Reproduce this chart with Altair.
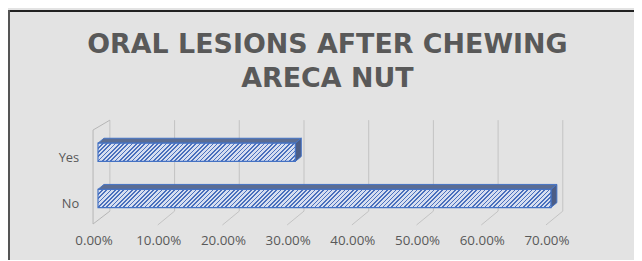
import altair as alt
import pandas as pd

# ---- data ----
categories = ["Yes", "No"]
values = [0.305, 0.70]
ticks = [0.0, 0.1, 0.2, 0.3, 0.4, 0.5, 0.6, 0.7]
title_lines = ["ORAL LESIONS AFTER CHEWING", "ARECA NUT"]

# ---- layout / style constants ----
W_PLOT, H_PLOT = 458, 126
XMAX = 0.7
PX = XMAX / W_PLOT          # data units per pixel on x
DEPTH_DX, DEPTH_DY = 17, -14  # wall depth
BAR_DX = 5                   # bar front plane offset from front axis plane
BAR_DEPTH_X, BAR_DEPTH_Y = 6, -5
BAR_TOP0, STEP, BAR_H = 43.3, 46.7, 18.4
BG = "#e3e3e3"
GRID = "#c2c2c2"
WALL = "#b5b5b5"
TEXT = "#595959"
BLUE = "#4472c4"
STRIPE = "#4a70bd"
PALE = "#d6def0"
TOP = "#5b6d93"
SIDE = "#4c5d86"

x_scale = alt.Scale(domain=[0, XMAX], nice=False, zero=False)
y_scale = alt.Scale(domain=[0, H_PLOT], reverse=True, nice=False, zero=False)

ticks_df = pd.DataFrame({"t": ticks})
bars = pd.DataFrame({"cat": categories, "v": values})
bars["i"] = range(len(bars))
bars["yt"] = BAR_TOP0 + bars["i"] * STEP
bars["yb"] = bars["yt"] + BAR_H
bars["x0"] = 0.0
recs = bars.to_dict("records")
title_df = pd.DataFrame({"line": title_lines, "k": range(len(title_lines))})

X = lambda f: alt.X(f, scale=x_scale, axis=None, title=None)

# back gridlines
grid = alt.Chart(ticks_df).mark_rule(xOffset=DEPTH_DX, color=GRID, strokeWidth=1).encode(
    x=X("t:Q"), y=alt.value(20), y2=alt.value(H_PLOT + DEPTH_DY),
)
# tick labels on the front floor edge
tick_labels = alt.Chart(ticks_df).transform_calculate(
    lab="format(datum.t, '.2%')").mark_text(
    font="Open Sans", fontSize=13.5, color=TEXT, baseline="middle", align="center", dx=1
).encode(x=X("t:Q"), y=alt.value(H_PLOT + 16), text="lab:N")

floor = alt.Chart(ticks_df).transform_filter("datum.t > 0").mark_rule(
    x2Offset=DEPTH_DX, color=GRID, strokeWidth=1).encode(
    x=X("t:Q"), x2="t:Q",
    y=alt.value(H_PLOT), y2=alt.value(H_PLOT + DEPTH_DY),
)

wall_front = alt.Chart(ticks_df).transform_filter("datum.t == 0").mark_rule(
    color=WALL, strokeWidth=1).encode(
    x=X("t:Q"), y=alt.value(30), y2=alt.value(125))
wall_topd = alt.Chart(ticks_df).transform_filter("datum.t == 0").mark_rule(
    x2Offset=DEPTH_DX, color=WALL, strokeWidth=1).encode(
    x=X("t:Q"), x2="t:Q", y=alt.value(30), y2=alt.value(20))
wall_botd = alt.Chart(ticks_df).transform_filter("datum.t == 0").mark_rule(
    x2Offset=DEPTH_DX, color=WALL, strokeWidth=1).encode(
    x=X("t:Q"), x2="t:Q", y=alt.value(125), y2=alt.value(112))

# top and side faces (parallelograms)
top_rows = []
side_rows = []
for r in recs:
    top_rows.append({"cat": r["cat"], "y": r["yt"],
                     "xa": r["x0"] + BAR_DX * PX, "xb": r["v"] + BAR_DX * PX})
    top_rows.append({"cat": r["cat"], "y": r["yt"] + BAR_DEPTH_Y,
                     "xa": r["x0"] + (BAR_DX + BAR_DEPTH_X) * PX,
                     "xb": r["v"] + (BAR_DX + BAR_DEPTH_X) * PX})
    side_rows.append({"cat": r["cat"], "x": r["v"] + BAR_DX * PX, "ya": r["yt"], "yb": r["yb"]})
    side_rows.append({"cat": r["cat"], "x": r["v"] + (BAR_DX + BAR_DEPTH_X) * PX,
                      "ya": r["yt"] + BAR_DEPTH_Y, "yb": r["yb"] + BAR_DEPTH_Y})
top_df = pd.DataFrame(top_rows)
side_df = pd.DataFrame(side_rows)

top_face = alt.Chart(top_df).mark_area(orient="horizontal", fill=TOP, stroke=BLUE,
                                       strokeWidth=1, interpolate="linear").encode(
    y=alt.Y("y:Q", scale=y_scale, axis=None),
    x=alt.X("xa:Q", scale=x_scale, axis=None, stack=None), x2="xb:Q",
    detail="cat:N",
)
side_face = alt.Chart(side_df).mark_area(orient="vertical", fill=SIDE, stroke=BLUE,
                                         strokeWidth=1, interpolate="linear").encode(
    x=X("x:Q"),
    y=alt.Y("ya:Q", scale=y_scale, axis=None, stack=None), y2="yb:Q",
    detail="cat:N",
)


def hatch(width_px, height_px, period=4.3, frac=0.38):
    t = height_px / width_px
    k = (width_px + height_px) / (width_px * (1 + t * t))
    total = width_px + height_px
    stops = []
    n = int(total / period) + 1
    for j in range(n):
        a = j * period / total
        if a >= 1:
            break
        b = min((j * period + period * frac) / total, 1.0)
        c = min((j + 1) * period / total, 1.0)
        stops += [{"offset": a, "color": STRIPE}, {"offset": b, "color": STRIPE},
                  {"offset": b, "color": PALE}, {"offset": c, "color": PALE}]
    return {"gradient": "linear", "x1": 0, "y1": 0, "x2": k, "y2": k * t, "stops": stops}


fronts = []
for r in recs:
    wpx = (r["v"] - r["x0"]) / PX
    fronts.append(
        alt.Chart(bars).transform_filter(alt.datum.cat == r["cat"]).mark_rect(
            xOffset=BAR_DX, x2Offset=BAR_DX, fill=hatch(wpx, BAR_H), stroke=BLUE, strokeWidth=1.2
        ).encode(
            x=X("x0:Q"), x2="v:Q",
            y=alt.Y("yt:Q", scale=y_scale, axis=None), y2="yb:Q",
        )
    )

labels = alt.Chart(bars).transform_calculate(ylab="datum.yt + 14.7").mark_text(
    align="right", baseline="middle", font="Open Sans", fontSize=13, color=TEXT
).encode(
    x=alt.value(-14), y=alt.Y("ylab:Q", scale=y_scale, axis=None), text="cat:N"
)

title = alt.Chart(title_df).transform_calculate(ty="-55.5 + datum.k * 34").mark_text(
    align="center", baseline="middle", font="DejaVu Sans", fontSize=27.2, fontWeight="bold",
    color=TEXT
).encode(x=alt.value(237), y=alt.Y("ty:Q", scale=y_scale, axis=None), text="line:N")

border_top = alt.Chart(ticks_df).mark_rule(color="#222222", strokeWidth=2).encode(
    x=alt.value(-90), x2=alt.value(W_PLOT + 120), y=alt.value(-90.5))
border_left = alt.Chart(ticks_df).mark_rule(color="#555555", strokeWidth=2).encode(
    x=alt.value(-85), y=alt.value(-91), y2=alt.value(H_PLOT + 40))

chart = alt.layer(
    grid, floor, wall_front, wall_topd, wall_botd, top_face, side_face, *fronts, labels,
    tick_labels, title, border_top, border_left,
).properties(
    width=W_PLOT, height=H_PLOT,
    autosize=alt.AutoSizeParams(type="none"),
    padding={"left": 86, "top": 92, "right": 89, "bottom": 34},
    background=BG,
).configure_view(stroke=None)

chart.save("out.html", embed_options={"renderer": "svg", "actions": False})
